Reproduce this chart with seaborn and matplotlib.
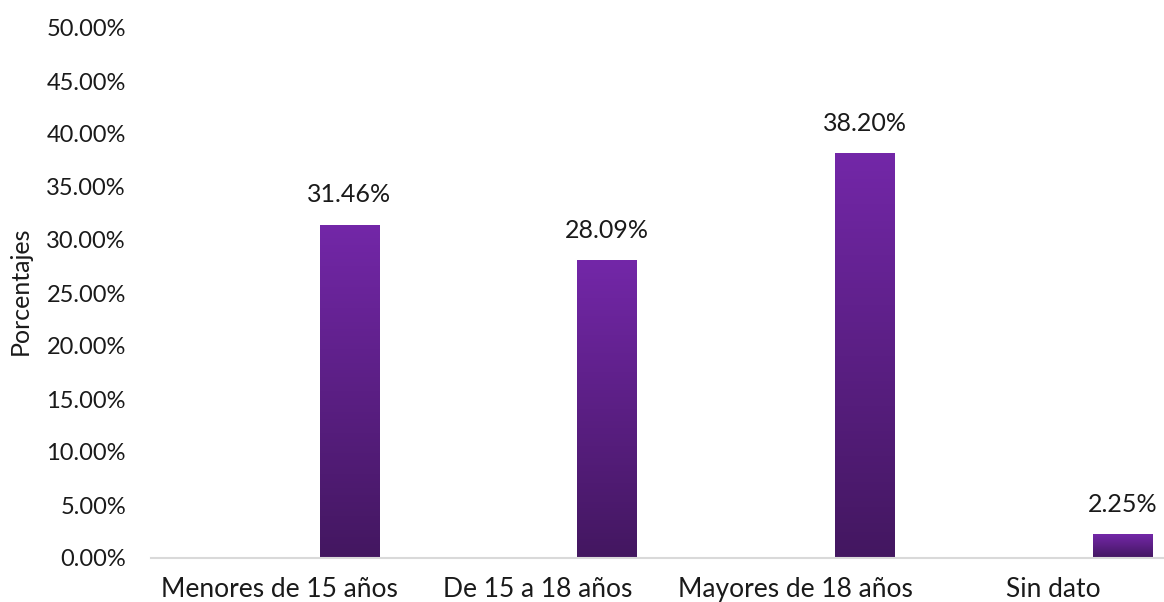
import numpy as np
import pandas as pd
import matplotlib
matplotlib.use("Agg")
import matplotlib.pyplot as plt
import seaborn as sns
from matplotlib.colors import LinearSegmentedColormap
from matplotlib.ticker import FuncFormatter

# datos
categorias = ["Menores de 15 años", "De 15 a 18 años", "Mayores de 18 años", "Sin dato"]
serie_vacia = [0.0, 0.0, 0.0, 0.0]
porcentajes = [0.3146, 0.2809, 0.3820, 0.0225]
etiquetas = ["31.46%", "28.09%", "38.20%", "2.25%"]

sns.set_style("white")
plt.rcParams['font.family'] = ['Lato', 'DejaVu Sans']

df = pd.DataFrame({
    "categoria": categorias * 2,
    "serie": ["a"] * 4 + ["b"] * 4,
    "valor": serie_vacia + porcentajes,
})

fig = plt.figure(figsize=(11.64, 6.02), dpi=100)
ax = fig.add_axes([151 / 1164, 44 / 602, 1 - 151 / 1164, (558 - 28) / 602])

sns.barplot(data=df, x="categoria", y="valor", hue="serie", ax=ax,
            palette=["#7030A0", "#7030A0"], width=1.08, gap=0.57,
            linewidth=0, legend=False, errorbar=None)

# degradado en las barras
cmap = LinearSegmentedColormap.from_list("morado", ["#431760", "#7327A8"])
grad = np.linspace(0, 1, 256).reshape(-1, 1)
barras = ax.containers[1]
for p in barras:
    x0, y0 = p.get_x(), p.get_y()
    w, h = p.get_width(), p.get_height()
    p.set_facecolor("none")
    im = ax.imshow(grad, cmap=cmap, origin="lower", aspect="auto",
                   extent=[x0, x0 + w, y0, y0 + h], zorder=2)
    im.set_clip_path(p)

ax.bar_label(barras, labels=etiquetas, padding=13, fontsize=18, color="#1a1a1a")

ax.set_xlim(-0.5, 3.43)
ax.set_ylim(0, 0.5)
ax.set_yticks(np.arange(0, 0.51, 0.05))
ax.yaxis.set_major_formatter(FuncFormatter(lambda v, _: f"{v * 100:.2f}%"))
ax.tick_params(axis="y", labelsize=17, colors="#1a1a1a", length=0, pad=18)
ax.tick_params(axis="x", labelsize=19, colors="#1a1a1a", length=0, pad=14)
ax.set_xlabel("")
ax.set_ylabel("Porcentajes", fontsize=18, color="#1a1a1a", va="center")
ax.yaxis.set_label_coords(-0.129, 0.504)

for s in ["top", "right", "left"]:
    ax.spines[s].set_visible(False)
ax.spines["bottom"].set_color("#D9D9D9")
ax.spines["bottom"].set_linewidth(1.5)

fig.savefig("out.png", dpi=100)
